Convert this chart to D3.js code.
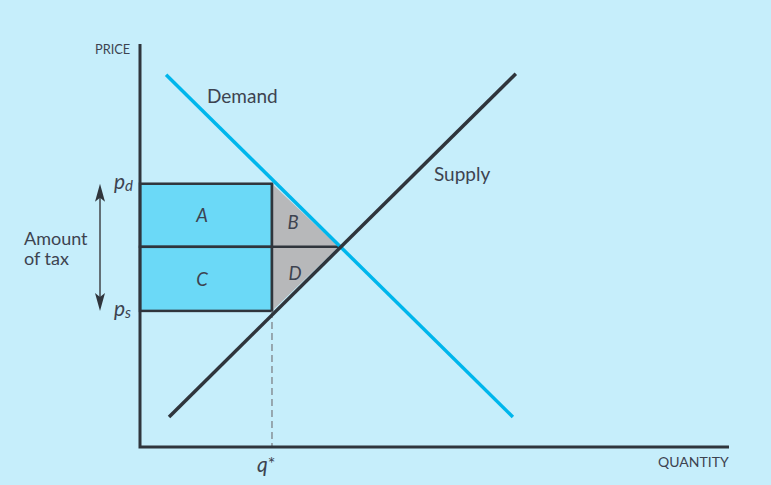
<!DOCTYPE html>
<html><head><meta charset="utf-8">
<script src="https://cdn.jsdelivr.net/npm/d3@7"></script>
<style>body{margin:0;background:#c6eefb;}svg{display:block;}</style>
</head><body>
<svg id="c" width="771" height="485"></svg>
<script>
// Data (units: quantity / price)
const demand = [{q:0.79, p:11.27}, {q:11.3, p:0.91}];
const supply = [{q:0.88, p:0.91}, {q:11.39, p:11.3}];
const qStar = 4.0, qEq = 6.02;
const pD = 7.97, pE = 6.06, pS = 4.12;
const areaLabels = ["A","B","C","D"];
const axisLabels = ["PRICE","QUANTITY"];

const svg = d3.select("#c");
svg.append("rect").attr("width",771).attr("height",485).attr("fill","#c6eefb");
const x = d3.scaleLinear().domain([0,17.85]).range([140,729]);
const y = d3.scaleLinear().domain([0,12.2]).range([447,44]);
const dark = "#2f353c", txt = "#3d4350";

// rectangles A and C
svg.append("rect").attr("x",x(0)).attr("y",y(pD)).attr("width",x(qStar)-x(0)).attr("height",y(pE)-y(pD))
  .attr("fill","#6bd9f7").attr("stroke",dark).attr("stroke-width",2.5);
svg.append("rect").attr("x",x(0)).attr("y",y(pE)).attr("width",x(qStar)-x(0)).attr("height",y(pS)-y(pE))
  .attr("fill","#6bd9f7").attr("stroke",dark).attr("stroke-width",2.5);
// triangles B and D
const line = d3.line().x(d=>x(d[0])).y(d=>y(d[1]));
svg.append("path").attr("d",line([[qStar,pD],[qEq,pE],[qStar,pE]])+"Z").attr("fill","#b7b8ba");
svg.append("path").attr("d",line([[qStar,pE],[qEq,pE],[qStar,pS]])+"Z").attr("fill","#b7b8ba");
svg.append("line").attr("x1",x(qStar)).attr("x2",x(qEq)).attr("y1",y(pE)).attr("y2",y(pE)).attr("stroke",dark).attr("stroke-width",2.5);
svg.append("line").attr("x1",x(qStar)).attr("x2",x(qStar)).attr("y1",y(pD)).attr("y2",y(pS)).attr("stroke",dark).attr("stroke-width",2.5);

// dashed q*
svg.append("line").attr("x1",x(qStar)).attr("x2",x(qStar)).attr("y1",y(pS)).attr("y2",y(0))
  .attr("stroke","#7d8287").attr("stroke-width",1.3).attr("stroke-dasharray","7,4");

// demand & supply
svg.append("path").attr("d",d3.line().x(d=>x(d.q)).y(d=>y(d.p))(demand)).attr("stroke","#00b6ec").attr("stroke-width",3.5).attr("fill","none");
svg.append("path").attr("d",d3.line().x(d=>x(d.q)).y(d=>y(d.p))(supply)).attr("stroke",dark).attr("stroke-width",3.5).attr("fill","none");

// axes
svg.append("path").attr("d",`M${x(0)},${y(12.2)}V${y(0)}H${x(17.85)}`).attr("stroke",dark).attr("stroke-width",3).attr("fill","none");

const font = "Lato, 'Open Sans', sans-serif";
function t(s,xx,yy,size,opt={}){
  return svg.append("text").attr("x",xx).attr("y",yy).attr("font-family",font).attr("font-size",size)
   .attr("fill",txt).attr("font-style",opt.italic?"italic":"normal").attr("text-anchor",opt.anchor||"start").text(s);
}
t(axisLabels[0],95,54,12.8);
t(axisLabels[1],658,467,14);
t("Demand",207,103,19);
t("Supply",434,181,19);
t("Amount",24,245,18);
t("of tax",24,265,18);
// area labels
t(areaLabels[0],(x(0)+x(qStar))/2-4,(y(pD)+y(pE))/2+7,18.5,{italic:true,anchor:"middle"});
t(areaLabels[1],x(qStar)+21,(y(pD)+y(pE))/2+14,18.5,{italic:true,anchor:"middle"});
t(areaLabels[2],(x(0)+x(qStar))/2-4,(y(pE)+y(pS))/2+7,18.5,{italic:true,anchor:"middle"});
t(areaLabels[3],x(qStar)+23,(y(pE)+y(pS))/2+1,18.5,{italic:true,anchor:"middle"});
// price labels
const pd = t("p",114,y(pD)+5,21,{italic:true}); pd.append("tspan").attr("font-size",15).attr("dy",2).text("d");
const ps = t("p",114,y(pS)+5,21,{italic:true}); ps.append("tspan").attr("font-size",15).attr("dy",2).text("s");
const qs = t("q",257,472,21,{italic:true}); qs.append("tspan").attr("font-size",18).attr("dy",-2).attr("font-style","normal").text("*");

// tax arrow
const ax = 100;
svg.append("line").attr("x1",ax).attr("x2",ax).attr("y1",y(pD)+12).attr("y2",y(pS)-12).attr("stroke","#4a4f55").attr("stroke-width",1.6);
svg.append("path").attr("d",`M${ax},${y(pD)}L${ax-5},${y(pD)+18}L${ax},${y(pD)+14}L${ax+5},${y(pD)+18}Z`).attr("fill",dark);
svg.append("path").attr("d",`M${ax},${y(pS)}L${ax-5},${y(pS)-18}L${ax},${y(pS)-14}L${ax+5},${y(pS)-18}Z`).attr("fill",dark);
</script>
</body></html>
